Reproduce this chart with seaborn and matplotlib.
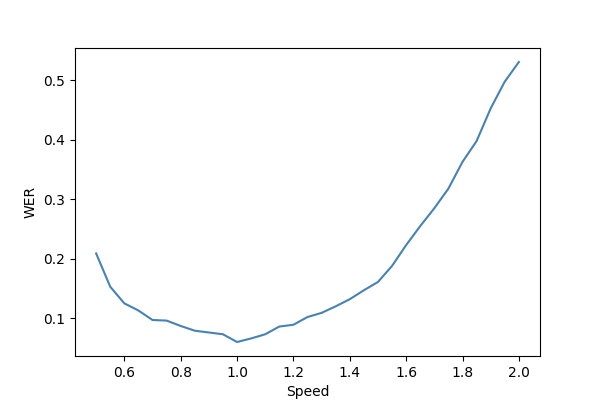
import matplotlib
matplotlib.use("Agg")
import matplotlib.pyplot as plt
import seaborn as sns
import pandas as pd

speed = [0.5, 0.55, 0.6, 0.65, 0.7, 0.75, 0.8, 0.85, 0.9, 0.95, 1.0,
         1.05, 1.1, 1.15, 1.2, 1.25, 1.3, 1.35, 1.4, 1.45, 1.5,
         1.55, 1.6, 1.65, 1.7, 1.75, 1.8, 1.85, 1.9, 1.95, 2.0]
wer = [0.209, 0.153, 0.125, 0.113, 0.097, 0.096, 0.087, 0.079, 0.076, 0.073, 0.060,
       0.066, 0.073, 0.086, 0.089, 0.102, 0.109, 0.120, 0.132, 0.147, 0.161,
       0.188, 0.223, 0.255, 0.285, 0.318, 0.363, 0.398, 0.453, 0.498, 0.531]

df = pd.DataFrame({"Speed": speed, "WER": wer})

fig, ax = plt.subplots(figsize=(6, 4), dpi=100)
sns.lineplot(data=df, x="Speed", y="WER", color="steelblue", ax=ax)
ax.set_xlabel("Speed")
ax.set_ylabel("WER")

plt.savefig("out.png", dpi=100, facecolor="w")
